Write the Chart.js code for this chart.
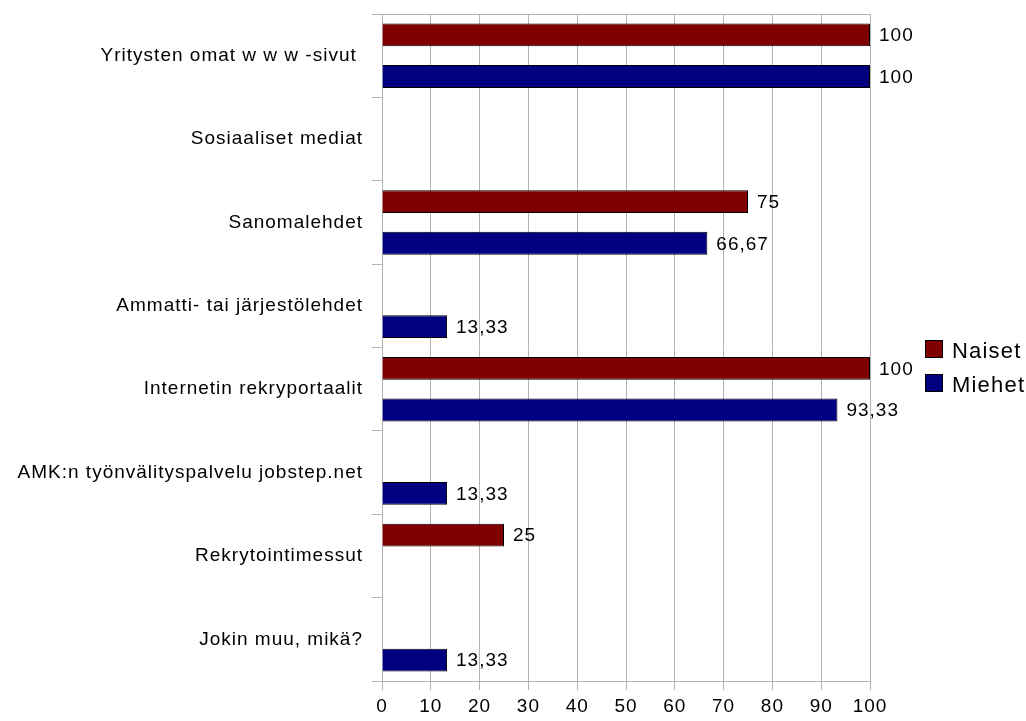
<!DOCTYPE html>
<html>
<head>
<meta charset="utf-8">
<script src="https://cdn.jsdelivr.net/npm/chart.js@4/dist/chart.umd.min.js"></script>
<style>
  html, body { margin: 0; padding: 0; background: #fff; }
  #wrap { width: 1026px; height: 721px; }
</style>
</head>
<body>
<div id="wrap"><canvas id="kanavat"></canvas></div>
<script>
const categories = [
    'Yritysten omat w w w -sivut ',
    'Sosiaaliset mediat',
    'Sanomalehdet',
    'Ammatti- tai järjestölehdet',
    'Internetin rekryportaalit',
    'AMK:n työnvälityspalvelu jobstep.net',
    'Rekrytointimessut',
    'Jokin muu, mikä?'
];
const naiset = [100, null, 75, null, 100, null, 25, null];
const miehet = [100, null, 66.67, 13.33, 93.33, 13.33, null, 13.33];
const xTicks = [0, 10, 20, 30, 40, 50, 60, 70, 80, 90, 100];

const FONT = '"Liberation Sans", Arial, sans-serif';
const GRID = '#b3b3b3';
const RED = '#800000';
const BLUE = '#000080';

// harvennettu kirjainväli kuten alkuperäisessä
const spacing = {
    id: 'spacing',
    beforeLayout(chart) { chart.ctx.letterSpacing = '1px'; },
    beforeDraw(chart) { chart.ctx.letterSpacing = '1px'; }
};

// arvot pylväiden perään, desimaalipilkulla
const valueLabels = {
    id: 'valueLabels',
    afterDatasetsDraw(chart) {
        const ctx = chart.ctx;
        ctx.save();
        ctx.letterSpacing = '1px';
        ctx.font = '19px ' + FONT;
        ctx.fillStyle = '#000';
        ctx.textAlign = 'left';
        ctx.textBaseline = 'middle';
        chart.data.datasets.forEach((ds, i) => {
            chart.getDatasetMeta(i).data.forEach((bar, j) => {
                const v = ds.data[j];
                if (v === null) return;
                ctx.fillText(String(v).replace('.', ','), bar.x + 9, bar.y + 1);
            });
        });
        ctx.restore();
    }
};

// selite oikealle
const sideLegend = {
    id: 'sideLegend',
    afterDraw(chart) {
        const ctx = chart.ctx;
        ctx.save();
        ctx.letterSpacing = '1.2px';
        ctx.font = '22px ' + FONT;
        ctx.textBaseline = 'alphabetic';
        chart.data.datasets.forEach((ds, i) => {
            const y = 340 + i * 34;
            ctx.fillStyle = ds.backgroundColor;
            ctx.fillRect(925, y, 18, 18);
            ctx.strokeStyle = '#000';
            ctx.lineWidth = 1;
            ctx.strokeRect(925.5, y + 0.5, 17, 17);
            ctx.fillStyle = '#000';
            ctx.fillText(ds.label, 952, y + 18);
        });
        ctx.restore();
    }
};

new Chart(document.getElementById('kanavat'), {
    type: 'bar',
    data: {
        labels: categories,
        datasets: [
            {
                label: 'Naiset',
                data: naiset,
                backgroundColor: RED,
                borderColor: '#000',
                borderWidth: 1,
                barPercentage: 0.55,
                categoryPercentage: 1.0
            },
            {
                label: 'Miehet',
                data: miehet,
                backgroundColor: BLUE,
                borderColor: '#000',
                borderWidth: 1,
                barPercentage: 0.55,
                categoryPercentage: 1.0
            }
        ]
    },
    options: {
        indexAxis: 'y',
        responsive: true,
        maintainAspectRatio: false,
        animation: false,
        layout: { padding: { top: 14, right: 156, left: 0, bottom: 0 } },
        plugins: {
            legend: { display: false },
            tooltip: { enabled: false }
        },
        scales: {
            x: {
                min: 0,
                max: 100,
                afterBuildTicks(scale) {
                    scale.ticks = xTicks.map(v => ({ value: v }));
                },
                afterFit(scale) { scale.height = 40; },
                grid: { color: GRID, tickColor: GRID, tickLength: 9 },
                border: { color: GRID },
                ticks: { color: '#000', padding: 5, font: { family: FONT, size: 19 } }
            },
            y: {
                afterFit(scale) {
                    scale.width = 382;
                    scale.paddingTop = 0;
                    scale.paddingBottom = 0;
                },
                grid: {
                    offset: true,
                    // vain ylä- ja alareunan viiva, muuten pelkät merkit
                    color: c => (c.type === 'scale' || c.index === 0) ? GRID : 'rgba(0,0,0,0)',
                    tickColor: GRID,
                    tickLength: 10
                },
                border: { color: GRID },
                ticks: { color: '#000', padding: 9, font: { family: FONT, size: 19 } }
            }
        }
    },
    plugins: [spacing, valueLabels, sideLegend]
});
</script>
</body>
</html>
